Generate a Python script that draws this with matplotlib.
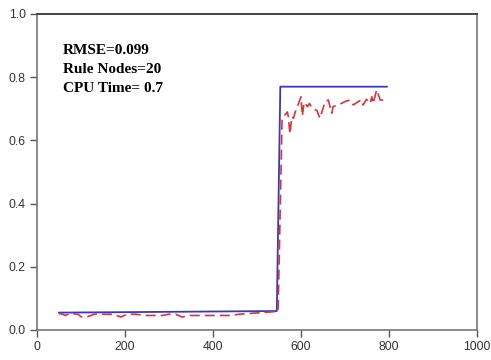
import matplotlib
matplotlib.use("Agg")
import matplotlib.pyplot as plt

# Target (step) signal
target_x = [50, 545, 553, 795]
target_y = [0.055, 0.060, 0.770, 0.770]

# Model output (dashed)
pred_x = [50, 58, 64, 75, 93, 100, 115, 130, 145, 160, 175, 190, 205, 225, 245,
          265, 285, 300, 315, 330, 345, 360, 380, 400, 420, 440, 460, 480, 500,
          520, 540, 548,
          557, 569, 571, 575, 579, 583, 586, 600, 603, 607, 615, 619, 627, 636,
          643, 655, 662, 670, 673, 685, 700, 711, 719, 730, 738, 741, 749, 757,
          761, 764, 772, 780, 791]
pred_y = [0.052, 0.050, 0.046, 0.052, 0.050, 0.042, 0.042, 0.050, 0.050, 0.050,
          0.050, 0.041, 0.050, 0.050, 0.046, 0.046, 0.046, 0.050, 0.050, 0.041,
          0.046, 0.046, 0.046, 0.046, 0.046, 0.046, 0.050, 0.052, 0.054, 0.056,
          0.058, 0.060,
          0.670, 0.690, 0.677, 0.620, 0.675, 0.670, 0.686, 0.738, 0.677, 0.720,
          0.707, 0.717, 0.700, 0.695, 0.670, 0.723, 0.728, 0.686, 0.707, 0.712,
          0.723, 0.728, 0.712, 0.723, 0.728, 0.712, 0.730, 0.717, 0.738, 0.717,
          0.760, 0.728, 0.728]

x_ticks = [0, 200, 400, 600, 800, 1000]
y_ticks = [0.0, 0.2, 0.4, 0.6, 0.8, 1.0]
stats_text = ["RMSE=0.099", "Rule Nodes=20", "CPU Time= 0.7"]

fig = plt.figure(figsize=(4.91, 3.60), dpi=100)
ax = fig.add_axes([37 / 491, 1 - 330 / 360, 440 / 491, 316 / 360])

ax.plot(target_x, target_y, color="#3a3ab8", lw=1.3, zorder=3)
ax.plot(pred_x, pred_y, color="#d8343c", lw=1.2, dashes=(6, 3), zorder=4)

ax.set_xlim(0, 1000)
ax.set_ylim(0, 1.0)
ax.set_xticks(x_ticks)
ax.set_yticks(y_ticks)
ax.set_xticklabels([str(v) for v in x_ticks])
ax.set_yticklabels([f"{v:.1f}" for v in y_ticks])
ax.tick_params(direction="out", length=5, width=1, color="#555555",
               labelsize=8.8, labelcolor="#333333", pad=3)
for lab in ax.get_xticklabels() + ax.get_yticklabels():
    lab.set_fontfamily("Liberation Sans")

for side in ["left", "bottom", "right"]:
    ax.spines[side].set_color("#777777")
    ax.spines[side].set_linewidth(1.2)
ax.spines["top"].set_color("#444444")
ax.spines["top"].set_linewidth(1.4)

for i, line in enumerate(stats_text):
    ax.text(0.058, 0.872 - i * 0.059, line, transform=ax.transAxes,
            fontfamily="Liberation Serif", fontweight="bold", fontsize=11,
            color="black", va="baseline", ha="left")

fig.savefig("out.png", dpi=100)
